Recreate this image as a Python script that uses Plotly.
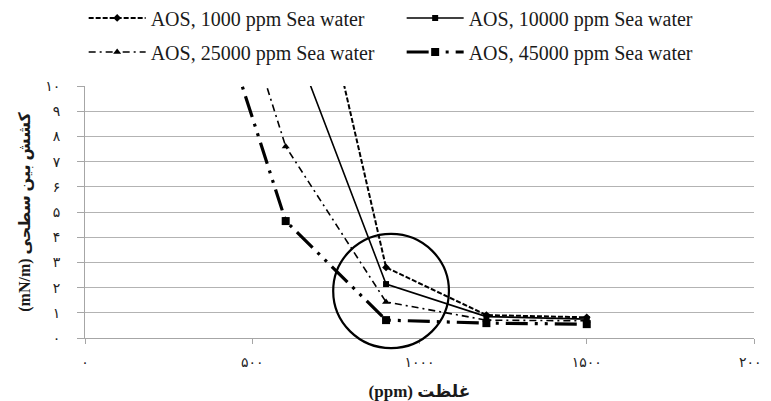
import plotly.graph_objects as go

# ---- data ----
names = ["AOS, 1000 ppm Sea water", "AOS, 10000 ppm Sea water",
         "AOS, 25000 ppm Sea water", "AOS, 45000 ppm Sea water"]
x_s1 = [600, 900, 1200, 1500]
y_s1 = [20.1, 2.80, 0.91, 0.82]
x_s2 = [600, 900, 1200, 1500]
y_s2 = [12.6, 2.14, 0.85, 0.75]
x_s3 = [300, 600, 900, 1200, 1500]
y_s3 = [20.2, 7.6, 1.43, 0.71, 0.68]
x_s4 = [300, 600, 900, 1200, 1500]
y_s4 = [17.0, 4.64, 0.71, 0.59, 0.55]

fa = "۰۱۲۳۴۵۶۷۸۹"
def fa_num(n):
    return "".join(fa[int(c)] for c in str(n))

y_ticks = list(range(0, 11))
x_ticks = [0, 500, 1000, 1500, 2000]

styles = [
    dict(dash="5px,2px", width=2, symbol="diamond", size=6, legend="legend"),
    dict(dash="solid", width=1.6, symbol="square", size=6, legend="legend"),
    dict(dash="7px,4px,2px,4px", width=1.6, symbol="triangle-up", size=7, legend="legend2"),
    dict(dash="22px,7px,3px,7px,3px,7px", width=3.2, symbol="square", size=8, legend="legend2"),
]

fig = go.Figure()
for nm, xs, ys, st in zip(names, [x_s1, x_s2, x_s3, x_s4], [y_s1, y_s2, y_s3, y_s4], styles):
    fig.add_trace(go.Scatter(
        x=xs, y=ys, name=nm, mode="lines+markers",
        line=dict(color="black", width=st["width"], dash=st["dash"]),
        marker=dict(symbol=st["symbol"], size=st["size"], color="black"),
        legend=st["legend"], cliponaxis=True,
    ))

serif = "Liberation Serif, DejaVu Serif, DejaVu Sans"
leg_common = dict(orientation="h", xanchor="left", yanchor="middle",
                  font=dict(family=serif, size=20, color="#1a1a1a"),
                  bgcolor="rgba(0,0,0,0)", entrywidth=246, entrywidthmode="pixels",
                  itemwidth=57)

# the page body has an 8px offset, so the figure is sized to fill the window from there
fig.update_layout(
    width=763, height=393,
    margin=dict(l=77, r=17, t=78, b=63, autoexpand=False),
    plot_bgcolor="white", paper_bgcolor="white",
    showlegend=True,
    legend=dict(x=-0.002, y=1.27, **leg_common),
    legend2=dict(x=-0.002, y=1.135, **leg_common),
    xaxis=dict(range=[0, 2000], tickvals=x_ticks, ticktext=[fa_num(v) for v in x_ticks],
               showgrid=False, zeroline=False, showline=True, linecolor="#a6a6a6", linewidth=1,
               ticks="outside", ticklen=5, tickcolor="#a6a6a6", automargin=False,
               ticklabelstandoff=6,
               tickfont=dict(family="DejaVu Sans", size=14, color="#222"),
               title=dict(text="(ppm) غلظت", standoff=20,
                          font=dict(family=serif, size=17, color="#1a1a1a", weight="bold"))),
    yaxis=dict(range=[0, 10], tickvals=y_ticks, ticktext=[fa_num(v) for v in y_ticks],
               showgrid=True, gridcolor="#b3b3b3", gridwidth=1, zeroline=False,
               showline=True, linecolor="#a6a6a6", linewidth=1, automargin=False,
               ticks="outside", ticklen=7, tickcolor="#a6a6a6", ticklabelstandoff=14,
               tickfont=dict(family="DejaVu Sans", size=14, color="#222"),
               title=dict(text="(mN/m) کشش بین سطحی", standoff=10,
                          font=dict(family=serif, size=16, color="#1a1a1a", weight="bold"))),
)

# circle highlighting the region around 900 ppm
fig.add_shape(type="circle", xref="paper", yref="paper",
              x0=0.371, x1=0.544, y0=-0.040, y1=0.413,
              line=dict(color="black", width=2.2), layer="above")

fig.write_html("out.html")
